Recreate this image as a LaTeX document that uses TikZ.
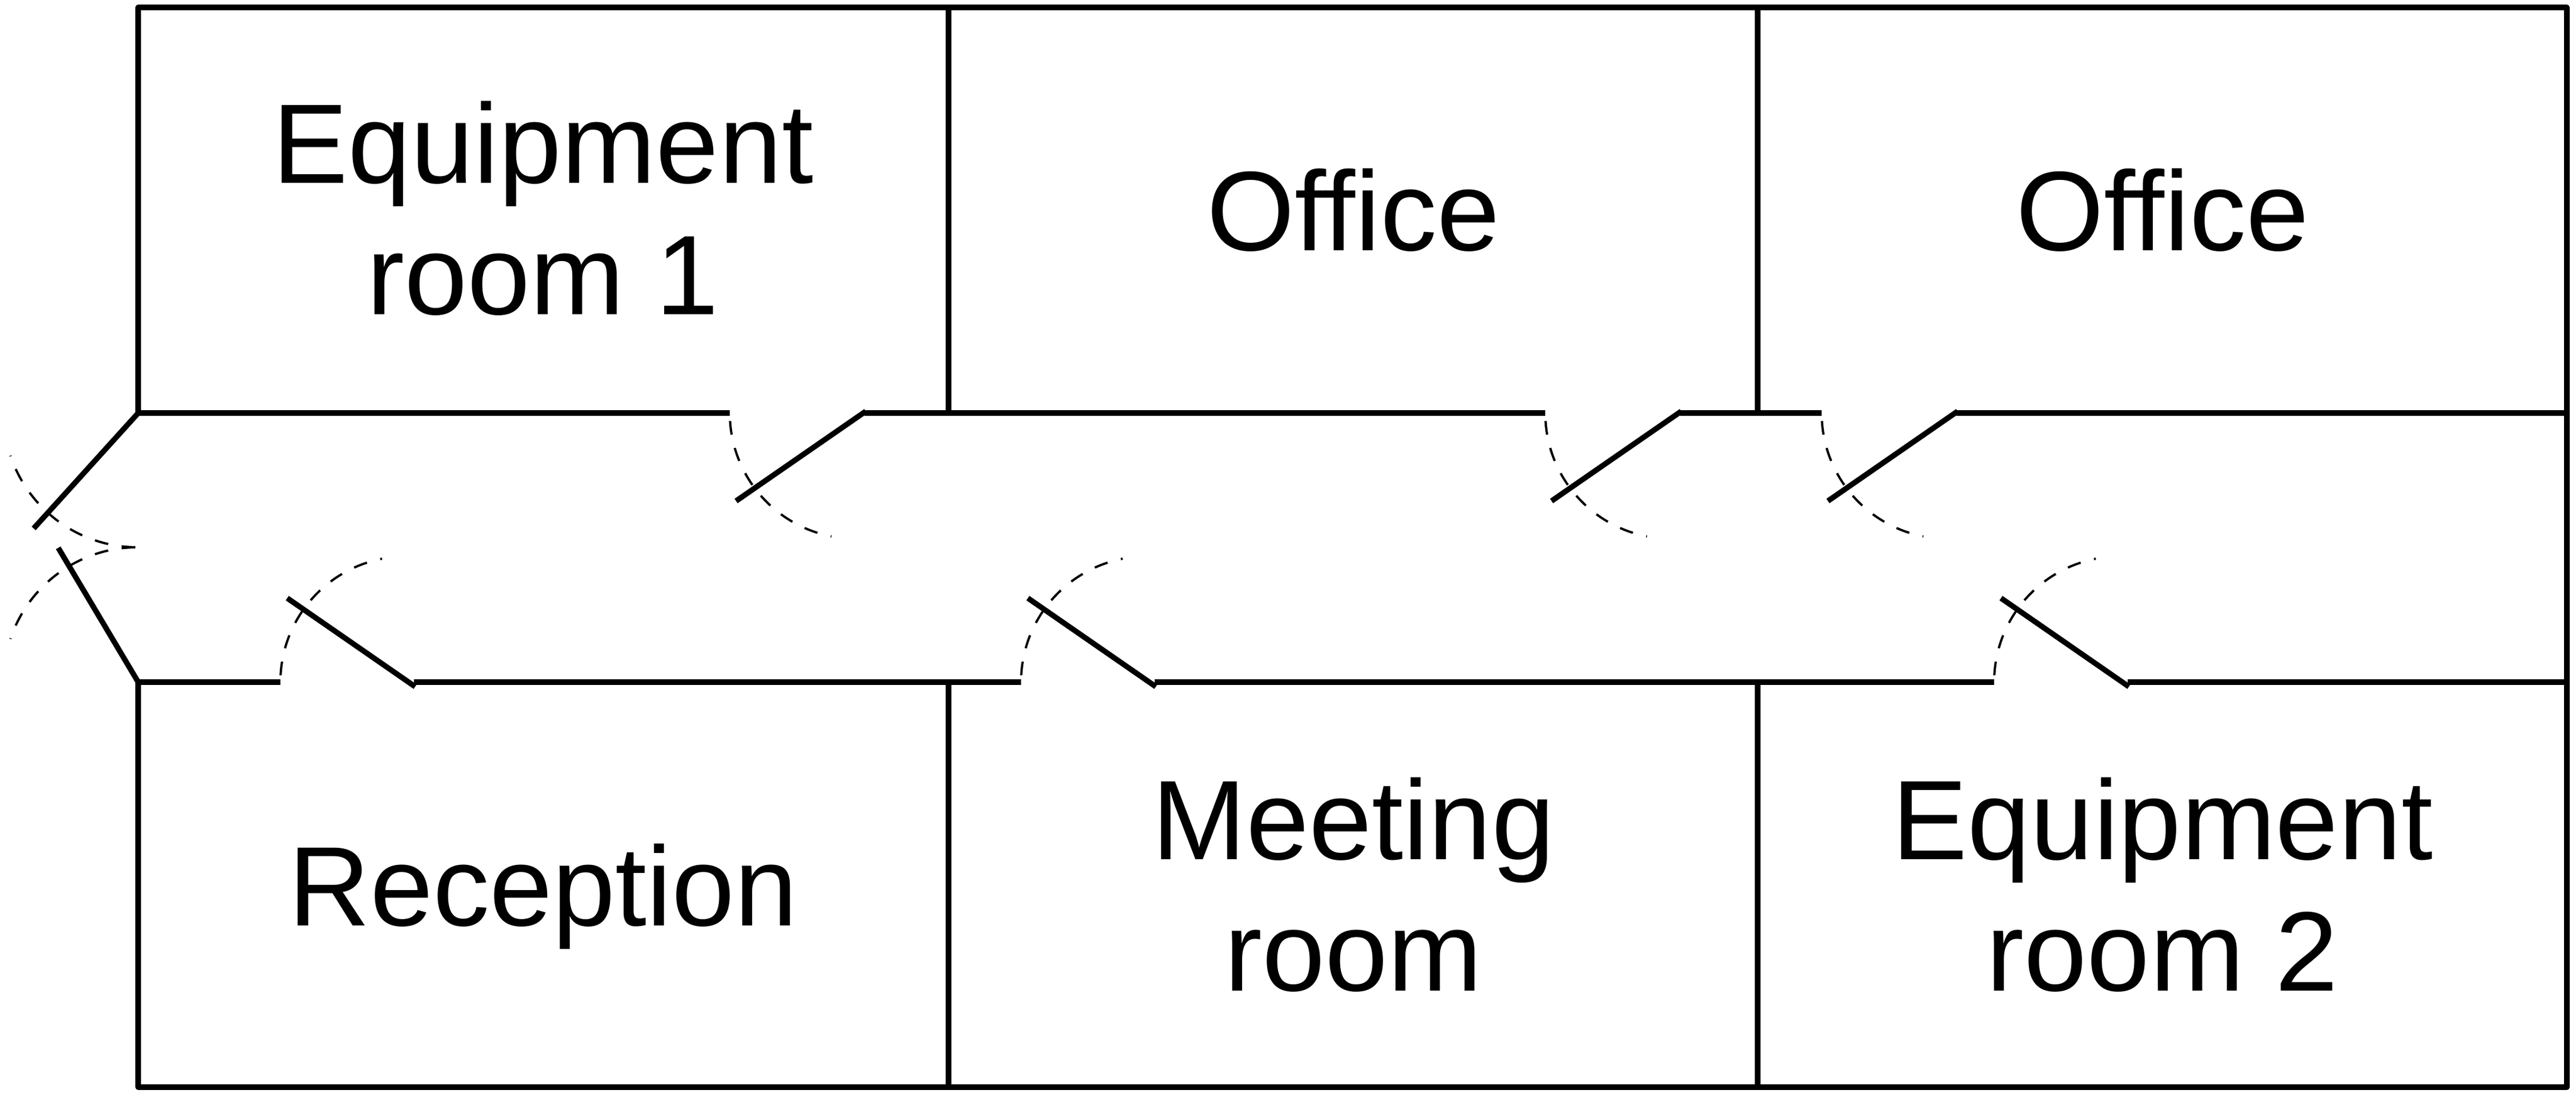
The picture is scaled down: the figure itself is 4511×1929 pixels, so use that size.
\documentclass[tikz,border=0pt]{standalone}
\usepackage{fontspec}
\setmainfont{Liberation Sans}

\begin{document}
\begin{tikzpicture}[x=0.1pt, y=0.1pt,
		wall/.style={line width=0.95pt, line join=round},
		leaf/.style={line width=0.95pt},
		swing/.style={line width=0.4pt, dash pattern=on 2.4pt off 2.4pt, dash phase=3.4pt},
		swingup/.style={swing, dash phase=3.6pt},
		entry/.style={line width=0.4pt, dash pattern=on 2.4pt off 2.4pt},
		room/.style={align=center, font=\fontsize{19.8pt}{23pt}\selectfont, inner sep=0pt}
	]
	\useasboundingbox (0,0) rectangle (4511,1929);

	% Outer walls and partitions
	\draw[wall] (242,1206) -- (242,1916) -- (4495,1916) -- (4495,26) -- (242,26) -- (242,735);
	\draw[wall] (1661,1206) -- (1661,1916);
	\draw[wall] (3078,1206) -- (3078,1916);
	\draw[wall] (1661,26) -- (1661,735);
	\draw[wall] (3078,26) -- (3078,735);

	% Corridor walls
	\draw[wall] (242,1206) -- (1278,1206);
	\draw[wall] (1514,1206) -- (2706,1206);
	\draw[wall] (2942,1206) -- (3190,1206);
	\draw[wall] (3426,1206) -- (4495,1206);
	\draw[wall] (242,735) -- (491,735);
	\draw[wall] (725,735) -- (1788,735);
	\draw[wall] (2022,735) -- (3492,735);
	\draw[wall] (3726,735) -- (4495,735);

	% Upper doors
	\draw[leaf] (1516,1209) -- (1289,1052);
	\draw[swing] (1278,1206) arc[start angle=180, end angle=259, radius=22pt];
	\draw[leaf] (2944,1209) -- (2717,1052);
	\draw[swing] (2706,1206) arc[start angle=180, end angle=259, radius=22pt];
	\draw[leaf] (3428,1209) -- (3201,1052);
	\draw[swing] (3190,1206) arc[start angle=180, end angle=259, radius=22pt];

	% Lower doors
	\draw[leaf] (727,727) -- (503,882);
	\draw[swingup] (491,735) arc[start angle=180, end angle=101, radius=22pt];
	\draw[leaf] (2024,727) -- (1800,882);
	\draw[swingup] (1788,735) arc[start angle=180, end angle=101, radius=22pt];
	\draw[leaf] (3728,727) -- (3504,882);
	\draw[swingup] (3492,735) arc[start angle=180, end angle=101, radius=22pt];

	% Entrance
	\draw[leaf] (242,1206) -- (59,1004);
	\draw[leaf] (242,735) -- (102,970);
	\draw[entry] (237,971) arc[start angle=269, end angle=198.5, radius=23.5pt];
	\draw[entry] (237,971) arc[start angle=91, end angle=161.5, radius=23.5pt];

	% Room labels
	\node[room] (equipone) at (951,1564) {Equipment\\room 1};
	\node[room] (officeleft) at (2370,1561) {Office};
	\node[room] (officeright) at (3787,1561) {Office};
	\node[room] (reception) at (951,360) {Reception};
	\node[room] (meeting) at (2370,380) {Meeting\\room};
	\node[room] (equiptwo) at (3787,380) {Equipment\\room 2};
\end{tikzpicture}
\end{document}
